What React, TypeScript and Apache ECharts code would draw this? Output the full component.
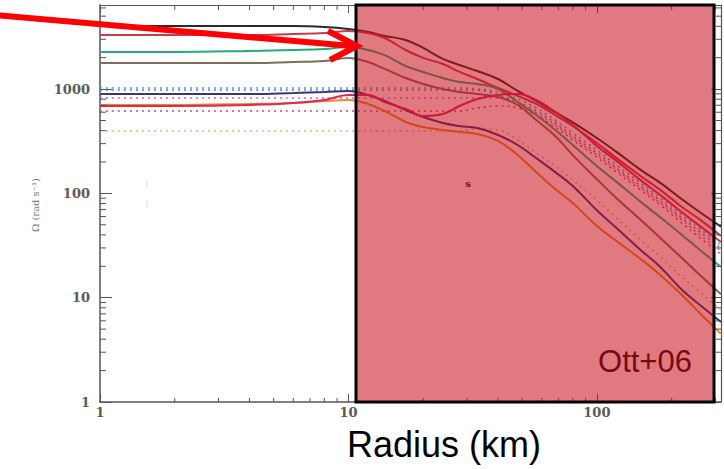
import React, { useEffect, useRef } from "react";
import * as echarts from "echarts";

// Radius sample points (km)
const radius = [1, 2, 4, 6, 8, 10, 12, 14, 17, 20, 24, 28, 33, 40, 48, 57, 68, 80, 100, 120, 150, 180, 220, 260, 316];

// Solid curves, Omega (rad/s)
const omegaDark = [4030, 4030, 4030, 4030, 3940, 3770, 3520, 3230, 2960, 2480, 1950, 1700, 1490, 1250, 960, 770, 600, 480, 340, 250, 168, 126, 88, 66, 48];
const omegaRed = [3300, 3300, 3300, 3380, 3450, 3610, 3450, 3090, 2370, 1990, 1740, 1460, 1250, 1025, 860, 720, 564, 443, 304, 218, 147, 108, 74, 56, 39];
const omegaGreen = [2270, 2270, 2320, 2370, 2420, 2530, 2370, 2120, 1665, 1460, 1277, 1170, 1120, 1000, 752, 564, 405, 291, 183, 129, 83, 59, 40, 28.7, 19.7];
const omegaBrown = [1780, 1780, 1780, 1820, 1860, 1990, 1820, 1560, 1277, 1120, 1000, 938, 898, 840, 704, 505, 355, 233, 137, 90, 56, 37.4, 24, 16.5, 10.8];
const omegaPurple = [898, 898, 898, 918, 938, 959, 878, 769, 630, 540, 473, 443, 424, 363, 291, 218, 160, 118, 69, 46.6, 28.7, 19.7, 11.9, 8.5, 5.85];
const omegaOrange = [704, 704, 720, 736, 769, 786, 720, 617, 484, 433, 405, 388, 371, 318, 233, 160, 110, 81, 48.7, 35, 23.5, 16.5, 10.6, 7.1, 4.5];
const omegaCrimson = [689, 689, 704, 736, 786, 878, 878, 752, 645, 552, 577, 689, 804, 878, 898, 786, 603, 453, 285, 205, 134, 96.5, 66, 48.7, 34.2];

// Dotted curves
const omegaDotTeal = [1025, 1025, 1025, 1025, 1025, 1025, 1025, 1025, 1025, 1025, 1025, 1025, 1002, 938, 804, 659, 505, 380, 261, 187, 126, 90.3, 62.1, 45.6, 32.0];
const omegaDotBlue = [980, 980, 980, 980, 980, 980, 980, 980, 980, 980, 980, 980, 980, 878, 752, 617, 473, 355, 244, 175, 118, 84.6, 58.1, 42.7, 30.0];
const omegaDotMagenta = [822, 822, 822, 822, 822, 822, 822, 822, 822, 822, 822, 822, 822, 822, 720, 590, 453, 340, 233, 168, 113, 80.9, 55.6, 39.9, 28.0];
const omegaDotRed = [617, 617, 617, 617, 617, 617, 617, 617, 617, 617, 617, 617, 659, 689, 659, 565, 433, 325, 223, 160, 108, 77.4, 52.0, 37.4, 26.2];
const omegaDotTan = [397, 397, 397, 397, 397, 397, 397, 397, 397, 397, 397, 397, 414, 405, 325, 244, 183, 134, 86.4, 58.1, 35.7, 24.6, 15.8, 11.3, 7.6];

// Ticks
const xMinorTicks = [2, 3, 4, 5, 6, 7, 8, 9, 20, 30, 40, 50, 60, 70, 80, 90, 200, 300];
const yMinorTicks = [2, 3, 4, 5, 6, 7, 8, 9, 20, 30, 40, 50, 60, 70, 80, 90, 200, 300, 400, 500, 600, 700, 800, 900, 2000, 3000, 4000, 5000, 6000];

const solidSeries = [
  { name: "dark", data: omegaDark, color: "#2a2a2a" },
  { name: "red", data: omegaRed, color: "#c83c50" },
  { name: "green", data: omegaGreen, color: "#28aa78" },
  { name: "brown", data: omegaBrown, color: "#806c5a" },
  { name: "purple", data: omegaPurple, color: "#3c3278" },
  { name: "orange", data: omegaOrange, color: "#e68c28" },
  { name: "crimson", data: omegaCrimson, color: "#dc285a" },
];
const dottedSeries = [
  { name: "dTeal", data: omegaDotTeal, color: "#40b0a0" },
  { name: "dBlue", data: omegaDotBlue, color: "#6070d0" },
  { name: "dMagenta", data: omegaDotMagenta, color: "#d060b0" },
  { name: "dRed", data: omegaDotRed, color: "#e04060" },
  { name: "dTan", data: omegaDotTan, color: "#e8b080" },
];

const labelFmt = (v: number) => {
  const l = Math.log10(v);
  return Math.abs(l - Math.round(l)) < 1e-6 ? String(Math.round(v)) : "";
};

const axisColor = "#555";
const labelStyle = {
  fontFamily: "DejaVu Serif",
  fontWeight: "bold" as const,
  fontSize: 13,
  color: "#5a5a5a",
};

export default function App() {
  const ref = useRef<HTMLDivElement>(null);
  useEffect(() => {
    if (!ref.current) return;
    const chart = echarts.init(ref.current, null, { renderer: "svg" });
    const series: any[] = [];
    dottedSeries.forEach((s) => {
      series.push({
        type: "line",
        name: s.name,
        data: radius.map((r, i) => [r, s.data[i]]),
        showSymbol: false,
        smooth: 0.4,
        z: 2,
        lineStyle: { color: s.color, width: 1.6, type: [2, 4] },
      });
    });
    solidSeries.forEach((s) => {
      series.push({
        type: "line",
        name: s.name,
        data: radius.map((r, i) => [r, s.data[i]]),
        showSymbol: false,
        smooth: 0.4,
        z: 3,
        lineStyle: { color: s.color, width: 2 },
      });
    });
    series.push({
      type: "custom",
      name: "xminor",
      data: xMinorTicks.map((v) => [v, 1]),
      encode: { x: 0, y: 1 },
      clip: false,
      z: 4,
      renderItem: (params: any, api: any) => {
        const p = api.coord([api.value(0), 1]);
        const cs = params.coordSys;
        return {
          type: "group",
          children: [
            { type: "line", shape: { x1: p[0], y1: cs.y + cs.height, x2: p[0], y2: cs.y + cs.height - 4 }, style: { stroke: axisColor, lineWidth: 1 } },
            { type: "line", shape: { x1: p[0], y1: cs.y, x2: p[0], y2: cs.y + 5 }, style: { stroke: axisColor, lineWidth: 1 } },
          ],
        };
      },
    });
    series.push({
      type: "custom",
      name: "yminor",
      data: yMinorTicks.map((v) => [1, v]),
      encode: { x: 0, y: 1 },
      clip: false,
      z: 4,
      renderItem: (params: any, api: any) => {
        const p = api.coord([1, api.value(1)]);
        const cs = params.coordSys;
        return {
          type: "group",
          children: [
            { type: "line", shape: { x1: cs.x, y1: p[1], x2: cs.x + 6, y2: p[1] }, style: { stroke: axisColor, lineWidth: 1 } },
            { type: "line", shape: { x1: cs.x + cs.width, y1: p[1], x2: cs.x + cs.width - 5, y2: p[1] }, style: { stroke: axisColor, lineWidth: 1 } },
          ],
        };
      },
    });

    chart.setOption({
      animation: false,
      backgroundColor: "#ffffff",
      grid: { left: 100, top: 5, width: 621, height: 397 },
      xAxis: [
        {
          type: "log", logBase: 10, min: 1, max: 316, position: "bottom",
          axisLine: { lineStyle: { color: axisColor, width: 1.5 } },
          axisTick: { inside: true, length: 8, lineStyle: { color: axisColor } },
          axisLabel: { ...labelStyle, margin: 4, formatter: labelFmt },
          splitLine: { show: false },
        },
        {
          type: "log", logBase: 10, min: 1, max: 316, position: "top",
          axisLine: { lineStyle: { color: axisColor, width: 1.2 } },
          axisTick: { inside: true, length: 8, lineStyle: { color: axisColor } },
          axisLabel: { show: false },
          splitLine: { show: false },
        },
      ],
      yAxis: [
        {
          type: "log", logBase: 10, min: 1, max: 6400, position: "left",
          axisLine: { lineStyle: { color: axisColor, width: 1.5 } },
          axisTick: { inside: true, length: 12, lineStyle: { color: axisColor } },
          axisLabel: { ...labelStyle, margin: 10, formatter: labelFmt },
          splitLine: { show: false },
        },
        {
          type: "log", logBase: 10, min: 1, max: 6400, position: "right",
          axisLine: { lineStyle: { color: axisColor, width: 1.2 } },
          axisTick: { inside: true, length: 10, lineStyle: { color: axisColor } },
          axisLabel: { show: false },
          splitLine: { show: false },
        },
      ],
      series,
      graphic: [
        { type: "line", z: 10, shape: { x1: 147, y1: 180, x2: 147, y2: 187 }, style: { stroke: "#dddddd", lineWidth: 1 } },
        { type: "line", z: 10, shape: { x1: 147, y1: 200, x2: 147, y2: 207 }, style: { stroke: "#dddddd", lineWidth: 1 } },
        { type: "text", z: 10, x: 468, y: 183, style: { text: "s", fill: "#222", font: "bold 10px 'DejaVu Serif'", align: "center", verticalAlign: "middle" } },
        { type: "rect", z: 50, shape: { x: 356, y: 5, width: 358, height: 397 }, style: { fill: "rgba(199,13,24,0.55)" } },
        { type: "rect", z: 52, shape: { x: 356, y: 5, width: 358, height: 397 }, style: { fill: "none", stroke: "#000", lineWidth: 3 } },
        { type: "text", z: 53, x: 645, y: 361, style: { text: "Ott+06", fill: "#780a14", font: "31px 'Liberation Sans'", align: "center", verticalAlign: "middle" } },
        { type: "text", z: 53, x: 444, y: 444, style: { text: "Radius (km)", fill: "#000", font: "36px 'Liberation Sans'", align: "center", verticalAlign: "middle" } },
        { type: "text", z: 53, x: 35, y: 205, rotation: Math.PI / 2, style: { text: "Ω (rad s⁻¹)", fill: "#777", font: "10px 'DejaVu Serif'", align: "center", verticalAlign: "middle" } },
        { type: "line", z: 60, shape: { x1: -5, y1: 15, x2: 352, y2: 46 }, style: { stroke: "#ff0000", lineWidth: 6 } },
        { type: "polyline", z: 60, shape: { points: [[328, 31], [357, 46], [330, 60]] }, style: { stroke: "#ff0000", lineWidth: 6, fill: "none", lineJoin: "miter" } },
      ],
    });
    return () => chart.dispose();
  }, []);
  return <div ref={ref} style={{ position: "fixed", left: 0, top: 0, width: 724, height: 469 }} />;
}
